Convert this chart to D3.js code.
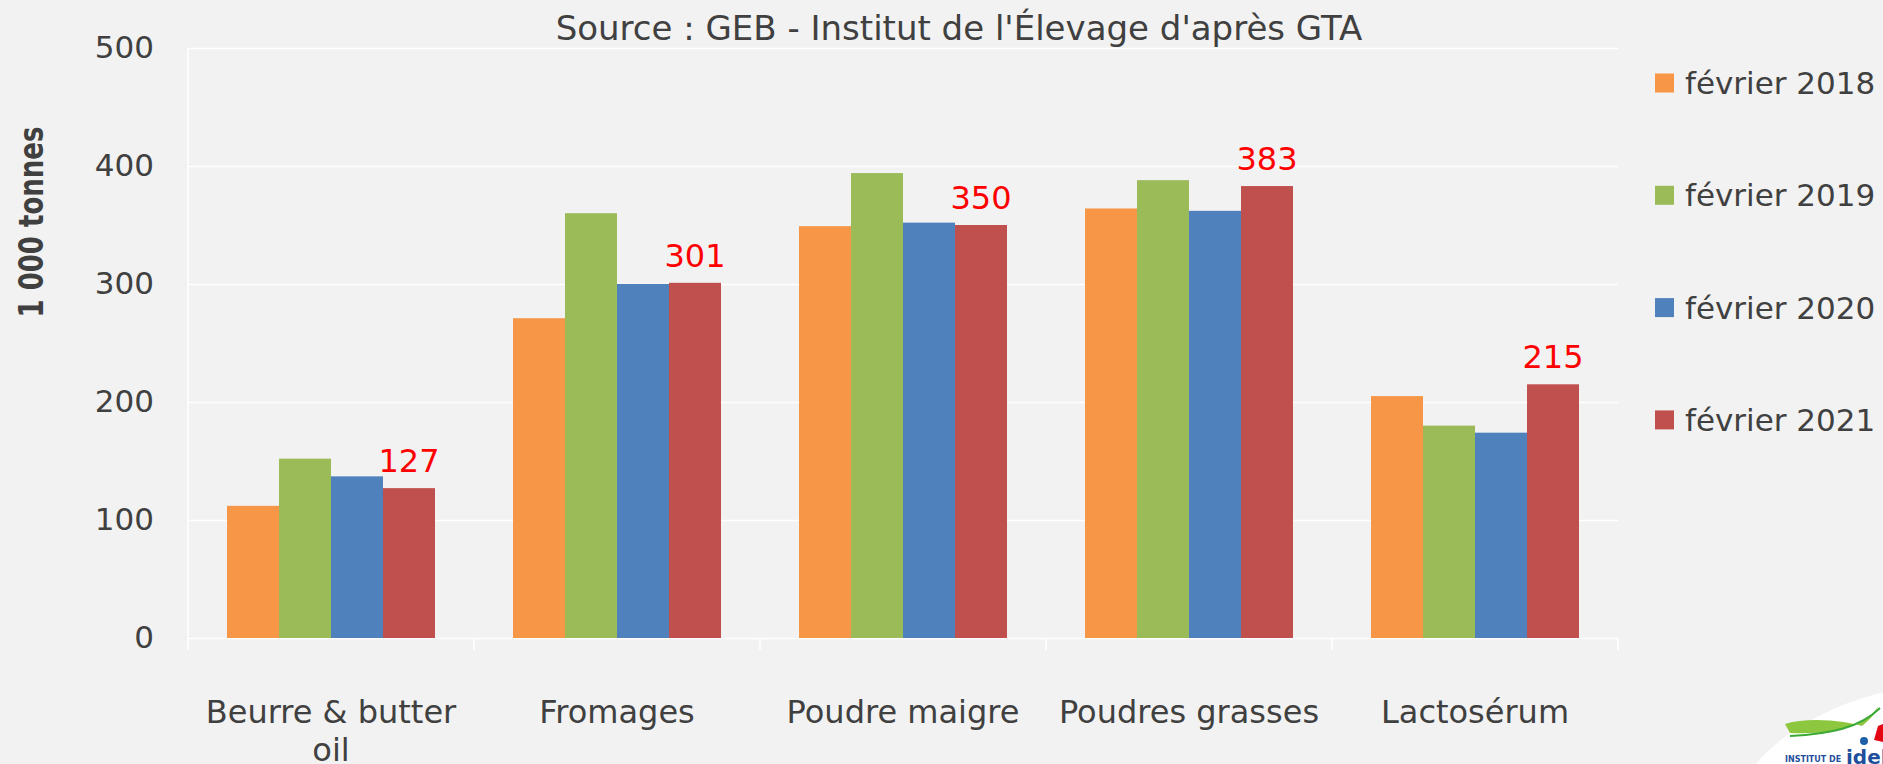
<!DOCTYPE html>
<html>
<head>
<meta charset="utf-8">
<script src="https://cdn.jsdelivr.net/npm/d3@7"></script>
<style>
  html, body { margin: 0; padding: 0; background: #f2f2f2; }
  svg { display: block; }
  text { font-family: "DejaVu Sans", sans-serif; fill: #404040; }
</style>
</head>
<body>
<div class="chart-container"></div>
<script>
// data
const categories = ["Beurre & butter oil", "Fromages", "Poudre maigre", "Poudres grasses", "Lactosérum"];
const seriesNames = ["février 2018", "février 2019", "février 2020", "février 2021"];
const seriesColors = ["#f79646", "#9bbb59", "#4f81bd", "#c0504d"];
const feb2018 = [112, 271, 349, 364, 205];
const feb2019 = [152, 360, 394, 388, 180];
const feb2020 = [137, 300, 352, 362, 174];
const feb2021 = [127, 301, 350, 383, 215];
const yTicks = [0, 100, 200, 300, 400, 500];
const titleText = "Source : GEB - Institut de l'Élevage d'après GTA";
const yTitle = "1 000 tonnes";

const seriesValues = [feb2018, feb2019, feb2020, feb2021];

const width = 1883, height = 764;
const margin = {top: 48, right: 265, bottom: 126, left: 188};

let svg = d3.select(".chart-container")
  .append("svg")
  .attr("width", width)
  .attr("height", height);

svg.append("rect")
  .attr("width", width)
  .attr("height", height)
  .attr("fill", "#f2f2f2");

let x0 = d3.scaleBand()
  .domain(categories)
  .range([margin.left, width - margin.right]);

let x1 = d3.scaleBand()
  .domain(seriesNames)
  .range([0, x0.bandwidth()])
  .paddingInner(0)
  .paddingOuter(0.75);

let y = d3.scaleLinear()
  .domain([0, 500])
  .range([height - margin.bottom, margin.top]);

//gridlines
svg.append("g")
  .attr("class", "ygrid")
  .attr("transform", "translate(" + margin.left + ",0)")
  .call(d3.axisLeft(y).tickValues(yTicks)
    .tickSize(-(width - margin.left - margin.right))
    .tickFormat(""))
  .call(g => g.select(".domain").remove())
  .call(g => g.selectAll("line").attr("stroke", "#ffffff").attr("stroke-width", 1.5));

// left edge and category separators
let bounds = categories.map(c => x0(c)).concat([x0.range()[1]]);
svg.append("g")
  .selectAll("line")
  .data(bounds)
  .enter()
  .append("line")
  .attr("x1", d => d)
  .attr("x2", d => d)
  .attr("y1", (d, i) => i === 0 ? y(500) : y(0))
  .attr("y2", y(0) + 12)
  .attr("stroke", "#ffffff")
  .attr("stroke-width", 1.5);

// y tick labels
svg.append("g")
  .attr("transform", "translate(" + (margin.left - 34) + ",0)")
  .call(d3.axisLeft(y).tickValues(yTicks).tickSize(0).tickPadding(0))
  .call(g => g.select(".domain").remove())
  .call(g => g.selectAll("text")
    .style("font-family", "DejaVu Sans")
    .style("font-size", "31px")
    .attr("fill", "#404040"));

// bars
let groups = svg.append("g")
  .selectAll("g")
  .data(categories)
  .enter()
  .append("g")
  .attr("transform", d => "translate(" + x0(d) + ",0)");

groups.selectAll("rect")
  .data((c, ci) => seriesNames.map((s, si) => ({series: s, value: seriesValues[si][ci], color: seriesColors[si]})))
  .enter()
  .append("rect")
  .attr("x", d => x1(d.series))
  .attr("y", d => y(d.value))
  .attr("width", x1.bandwidth())
  .attr("height", d => y(0) - y(d.value))
  .attr("fill", d => d.color);

// red value labels on the 2021 series
svg.append("g")
  .selectAll("text")
  .data(categories)
  .enter()
  .append("text")
  .attr("x", (c) => x0(c) + x1(seriesNames[3]) + x1.bandwidth() / 2)
  .attr("y", (c, i) => y(feb2021[i]) - 16)
  .attr("text-anchor", "middle")
  .style("font-size", "32px")
  .style("fill", "#ff0000")
  .text((c, i) => feb2021[i]);

// category labels, wrapped when too wide
let catLabels = svg.append("g")
  .selectAll("text")
  .data(categories)
  .enter()
  .append("text")
  .attr("x", c => x0(c) + x0.bandwidth() / 2)
  .attr("y", y(0) + 85)
  .attr("text-anchor", "middle")
  .style("font-size", "32px");

catLabels.each(function(c) {
  let el = d3.select(this);
  let words = c.split(" ");
  let line = [];
  let lineNo = 0;
  let tspan = el.append("tspan").attr("x", el.attr("x")).attr("dy", 0);
  words.forEach(function(w) {
    line.push(w);
    tspan.text(line.join(" "));
    if (tspan.node().getComputedTextLength() > 280 && line.length > 1) {
      line.pop();
      tspan.text(line.join(" "));
      line = [w];
      lineNo++;
      tspan = el.append("tspan").attr("x", el.attr("x")).attr("dy", 38).text(w);
    }
  });
});

// title
svg.append("text")
  .attr("x", 959)
  .attr("y", 40)
  .attr("text-anchor", "middle")
  .style("font-size", "34px")
  .text(titleText);

// y axis title
svg.append("text")
  .attr("transform", "translate(43,222) rotate(-90)")
  .attr("text-anchor", "middle")
  .attr("textLength", 191)
  .attr("lengthAdjust", "spacingAndGlyphs")
  .style("font-size", "34px")
  .style("font-weight", "bold")
  .text(yTitle);

// legend
let legend = svg.append("g")
  .attr("transform", "translate(1655,83)");

let items = legend.selectAll("g")
  .data(seriesNames)
  .enter()
  .append("g")
  .attr("transform", (d, i) => "translate(0," + (i * 112.3) + ")");

items.append("rect")
  .attr("x", 0)
  .attr("y", -9.5)
  .attr("width", 19)
  .attr("height", 19)
  .attr("fill", (d, i) => seriesColors[i]);

items.append("text")
  .attr("x", 30)
  .attr("dy", "0.36em")
  .style("font-size", "31px")
  .text(d => d);

// logo corner (rough)
let logo = svg.append("g");
logo.append("ellipse")
  .attr("cx", 1905)
  .attr("cy", 790)
  .attr("rx", 175)
  .attr("ry", 100)
  .attr("transform", "rotate(-14,1905,790)")
  .attr("fill", "#ffffff");
logo.append("path")
  .attr("d", "M1785,724 C1810,716 1850,722 1862,726 C1872,718 1876,712 1878,706 C1870,722 1845,735 1790,733 Z")
  .attr("fill", "#8dc63f");
logo.append("path")
  .attr("d", "M1790,736 C1830,734 1860,728 1880,708")
  .attr("stroke", "#3aaa35")
  .attr("stroke-width", 2)
  .attr("fill", "none");
logo.append("path")
  .attr("d", "M1874,740 L1878,726 L1883,724 L1883,742 Z")
  .attr("fill", "#e30613");
logo.append("circle")
  .attr("cx", 1864)
  .attr("cy", 741)
  .attr("r", 4)
  .attr("fill", "#1f5fa8");
logo.append("text")
  .attr("x", 1785)
  .attr("y", 762)
  .style("font-size", "8px")
  .style("font-weight", "bold")
  .style("fill", "#1f4e9c")
  .text("INSTITUT DE");
logo.append("text")
  .attr("x", 1846)
  .attr("y", 764)
  .style("font-size", "20px")
  .style("font-weight", "bold")
  .style("fill", "#1f4e9c")
  .text("idele");
</script>
</body>
</html>
